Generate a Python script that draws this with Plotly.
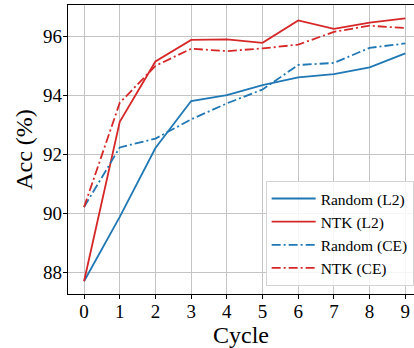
import plotly.graph_objects as go

cycles = [0, 1, 2, 3, 4, 5, 6, 7, 8, 9]
random_l2 = [87.7, 89.88, 92.21, 93.80, 94.0, 94.34, 94.6, 94.71, 94.94, 95.41]
ntk_l2 = [87.7, 93.1, 95.14, 95.87, 95.89, 95.77, 96.53, 96.24, 96.45, 96.6]
random_ce = [90.21, 92.23, 92.53, 93.18, 93.72, 94.19, 95.02, 95.09, 95.6, 95.75]
ntk_ce = [90.21, 93.74, 94.99, 95.57, 95.49, 95.58, 95.71, 96.14, 96.35, 96.27]
y_ticks = [88, 90, 92, 94, 96]

BLUE = "#1f77b4"
RED = "#d62728"
DASHDOT = "9px,3px,2px,3px"

series = [
    ("Random (L2)", random_l2, BLUE, "solid"),
    ("NTK (L2)", ntk_l2, RED, "solid"),
    ("Random (CE)", random_ce, BLUE, DASHDOT),
    ("NTK (CE)", ntk_ce, RED, DASHDOT),
]

fig = go.Figure()
for name, vals, color, dash in series:
    fig.add_trace(go.Scatter(x=cycles, y=vals, mode="lines", name=name,
                             line=dict(color=color, width=1.8, dash=dash)))

font_family = "Liberation Serif"
fig.update_layout(
    width=414, height=348,
    margin=dict(l=68, r=0, t=5, b=54),
    paper_bgcolor="white", plot_bgcolor="white",
    font=dict(family=font_family, color="black"),
    showlegend=True,
    legend=dict(x=0.999, xanchor="right", y=0.028, yanchor="bottom",
                bgcolor="rgba(255,255,255,0.85)", bordercolor="#d4d4d4", borderwidth=1,
                font=dict(size=15.5, family=font_family), tracegroupgap=0,
                itemwidth=44),
    xaxis=dict(range=[-0.45, 9.244], tickmode="array", tickvals=cycles,
               ticktext=[str(c) for c in cycles],
               showgrid=True, gridcolor="#c4c4c4", gridwidth=1.3,
               showline=True, linecolor="black", linewidth=1.2, mirror=True,
               ticks="outside", ticklen=4, tickcolor="black", ticklabelstandoff=-4,
               tickfont=dict(size=19, family=font_family), zeroline=False,
               title=dict(text="Cycle", font=dict(size=24, family=font_family), standoff=3)),
    yaxis=dict(range=[87.27, 97.05], tickmode="array", tickvals=y_ticks,
               ticktext=[str(t) for t in y_ticks],
               showgrid=True, gridcolor="#c4c4c4", gridwidth=1.3,
               showline=True, linecolor="black", linewidth=1.2,
               ticks="outside", ticklen=4, tickcolor="black", ticklabelstandoff=-3,
               tickfont=dict(size=19, family=font_family), zeroline=False,
               title=dict(text="Acc (%)", font=dict(size=24, family=font_family), standoff=3)),
)

fig.write_html("out.html")
